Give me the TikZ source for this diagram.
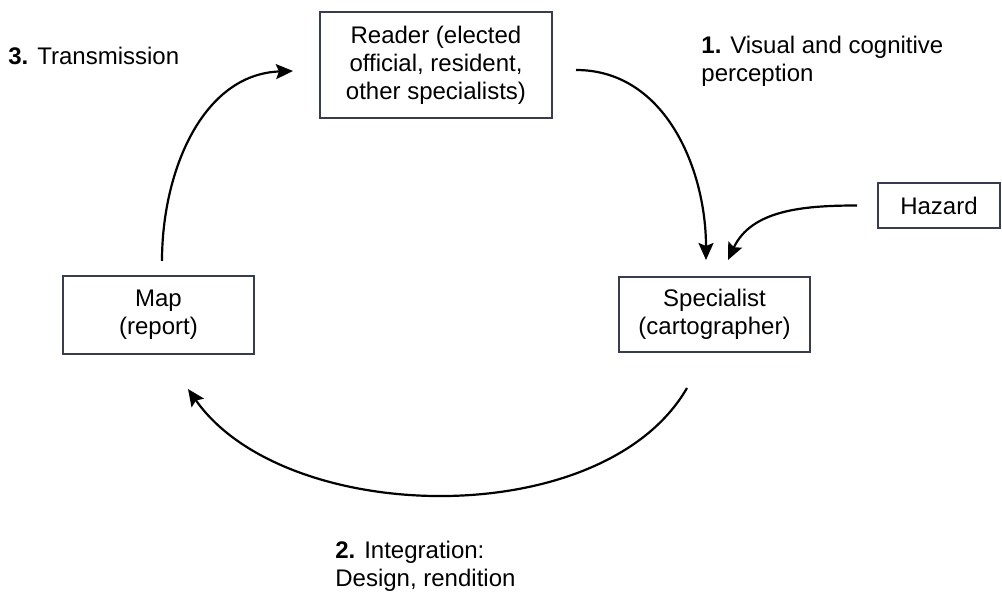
\documentclass[tikz,border=0pt]{standalone}
\usepackage{fontspec}
\setmainfont{Liberation Sans}
\usetikzlibrary{arrows.meta}
\definecolor{boxline}{RGB}{55,60,78}
\tikzset{
  actor/.style={draw=boxline,line width=1pt,align=center,inner sep=2pt},
  note/.style={align=left,inner sep=0pt},
  flow/.style={->,line width=1.1pt}
}
\begin{document}
\begin{tikzpicture}[>={Stealth[length=8.5pt,width=7.5pt,inset=1.5pt]},x=0.5pt,y=-0.5pt,font=\fontsize{12}{14}\selectfont]
	\useasboundingbox (0,0) rectangle (1002,592);
	% the four actors
	\node[actor,minimum width=116pt,minimum height=53pt] (reader) at (436,65) {Reader (elected\\official, resident,\\other specialists)};
	\node[actor,minimum width=95.5pt,minimum height=39pt] (map) at (158.5,315) {Map\\(report)};
	\node[actor,minimum width=95.5pt,minimum height=37.5pt] (spec) at (714.5,314.5) {Specialist\\(cartographer)};
	\node[actor,minimum width=61pt,minimum height=22.5pt] (hazard) at (939,205.5) {Hazard};
	% step labels
	\node[note,anchor=west] (trans) at (8,56) {\textbf{3.} Transmission};
	\node[note,anchor=north west] (visual) at (701,36) {\textbf{1.} Visual and cognitive\\perception};
	\node[note,anchor=north west] (integ) at (335,541) {\textbf{2.} Integration:\\Design, rendition};
	% cycle
	\draw[flow] ([xshift=11.5pt,yshift=-2.5pt]reader.east) to[out=0,in=90] ([xshift=-4.25pt,yshift=8pt]spec.north);
	\draw[flow] ([xshift=-10pt]hazard.west) to[out=180,in=65] ([xshift=6.75pt,yshift=8pt]spec.north);
	\draw[flow] ([xshift=-13.75pt,yshift=-17.5pt]spec.south) to[out=-120,in=-55,looseness=0.86] ([xshift=14.75pt,yshift=-17pt]map.south);
	\draw[flow] ([xshift=1.75pt,yshift=7pt]map.north) to[out=90,in=182] ([xshift=-13pt,yshift=-3pt]reader.west);
\end{tikzpicture}
\end{document}
